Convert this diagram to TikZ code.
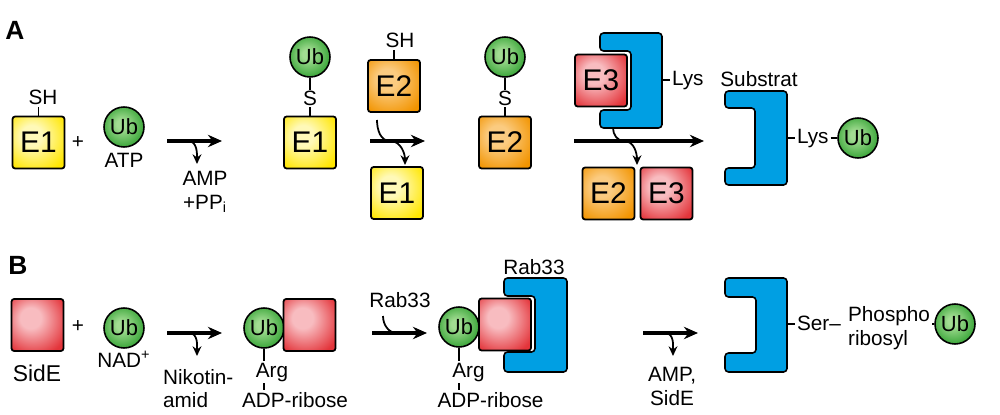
\documentclass[tikz,border=0pt]{standalone}
\usepackage{fontspec}
\setmainfont{Liberation Sans}
\usetikzlibrary{arrows.meta}

\definecolor{eoneyel}{HTML}{FFE600}
\definecolor{eoneyellt}{HTML}{FFF9B8}
\definecolor{etwoorg}{HTML}{F29400}
\definecolor{etwoorglt}{HTML}{FBCB80}
\definecolor{ethreered}{HTML}{E3343A}
\definecolor{ethreeredlt}{HTML}{F8BCC0}
\definecolor{ubgreen}{HTML}{3BA63A}
\definecolor{ubgreenlt}{HTML}{A2DC92}
\definecolor{protblue}{HTML}{009FE3}

\pgfdeclareradialshading{yelshade}{\pgfpoint{-8bp}{8bp}}%
  {color(0bp)=(eoneyellt); color(10bp)=(eoneyellt); color(34bp)=(eoneyel); color(60bp)=(eoneyel)}
\pgfdeclareradialshading{orgshade}{\pgfpoint{-8bp}{8bp}}%
  {color(0bp)=(etwoorglt); color(10bp)=(etwoorglt); color(34bp)=(etwoorg); color(60bp)=(etwoorg)}
\pgfdeclareradialshading{redshade}{\pgfpoint{-8bp}{8bp}}%
  {color(0bp)=(ethreeredlt); color(10bp)=(ethreeredlt); color(34bp)=(ethreered); color(60bp)=(ethreered)}
\pgfdeclareradialshading{grnshade}{\pgfpoint{-4bp}{4bp}}%
  {color(0bp)=(ubgreenlt); color(6bp)=(ubgreenlt); color(27bp)=(ubgreen); color(50bp)=(ubgreen)}

\newcommand\lblfont{\fontsize{11.8}{13.5}\selectfont}
\newcommand\ubfont{\fontsize{12.5}{14}\selectfont}
\newcommand\enzfont{\fontsize{17}{19}\selectfont}

\begin{document}
\begin{tikzpicture}[
    x=0.02cm, y=-0.02cm,
    enz/.style     = {rectangle, draw=black, line width=1pt, rounded corners=1.5pt,
                      minimum size=1.04cm, inner sep=0pt, font=\enzfont},
    eone/.style    = {enz, shading=yelshade},
    etwo/.style    = {enz, shading=orgshade},
    ethree/.style  = {enz, shading=redshade},
    ub/.style      = {circle, draw=black, line width=0.9pt, shading=grnshade,
                      minimum size=0.8cm, inner sep=0pt, font=\ubfont},
    lbl/.style     = {font=\lblfont, inner sep=1pt},
    sidlbl/.style  = {font=\fontsize{13}{15}\selectfont, inner sep=1pt},
    panel/.style   = {font=\fontsize{15}{17}\selectfont\bfseries, inner sep=0pt},
    link/.style    = {line width=0.8pt},
    rxn/.style     = {line width=2pt, -{Stealth[length=8pt, width=7pt]}},
    curl/.style    = {line width=1pt, -{Stealth[length=5.5pt, width=5pt]}},
    curlin/.style  = {line width=1pt},
    prot/.style    = {draw=black, line width=0.9pt, fill=protblue, rounded corners=2pt},
]
\useasboundingbox (0,0) rectangle (1000,415);

%% ============================================================
%% PANEL A
%% ============================================================
\node[panel] (pA) at (15,30) {A};

%% E1 + Ub
\node[eone] (E1a) at (38.5,142.5) {E1};
\node[lbl]  (SHa) at (43,97.5) {SH};
\draw[link] (E1a.north) -- (E1a.north |- SHa.south);
\node[lbl]  (plusA) at (78,143) {+};
\node[ub]   (UbA) at (124,127) {Ub};
\node[lbl]  (ATP) at (124,160) {ATP};

%% step 1
\coordinate (r1s) at (167,141);
\coordinate (r1e) at (222,141);
\coordinate (r1o) at (188,141);
\coordinate (r1t) at (197,164);
\draw[rxn]  (r1s) -- (r1e);
\draw[curl] (r1o) to[out=0, in=90] (r1t);
\node[lbl, align=center, anchor=north] (AMPa) at (205,169) {AMP\\+PP\textsubscript{i}};

%% Ub~S-E1
\node[eone] (E1b) at (310,142.5) {E1};
\node[lbl, inner sep=0.5pt] (Sa) at (310,98.5) {S};
\node[ub]   (UbB) at (310,57) {Ub};
\draw[link] (UbB) -- (Sa);
\draw[link] (Sa) -- (E1b);

%% step 2 (E2 in, E1 out)
\node[etwo] (E2a) at (394,86) {E2};
\node[lbl]  (SHb) at (400,40.5) {SH};
\draw[link] (E2a.north) -- (E2a.north |- SHb.south);
\coordinate (r2s) at (370,141);
\coordinate (r2e) at (425,141);
\coordinate (r2in) at (377,120);
\coordinate (r2m) at (390,141);
\coordinate (r2t) at (405,165);
\draw[rxn]  (r2s) -- (r2e);
\draw[curl] (r2in) to[out=-90, in=180] (r2m) to[out=0, in=90] (r2t);
\node[eone] (E1c) at (397,193) {E1};

%% Ub~S-E2
\node[etwo] (E2b) at (505,142.5) {E2};
\node[lbl, inner sep=0.5pt] (Sb) at (505,98.5) {S};
\node[ub]   (UbC) at (505,57) {Ub};
\draw[link] (UbC) -- (Sb);
\draw[link] (Sb) -- (E2b);

%% E3 bound to substrate
\draw[prot] (600,33) -- (662,33) -- (662,128) -- (600,128) -- (600,110)
            -- (631,110) -- (631,51) -- (600,51) -- cycle;
\node[ethree] (E3a) at (601,80.5) {E3};
\coordinate (E3pR) at (662,80);
\coordinate (E3pB) at (613,128);
\node[lbl, anchor=base west] (LysA) at (670,85.5) {Lys};
\draw[link] (E3pR) -- (E3pR -| LysA.west);

%% step 3
\coordinate (r3s) at (574,141);
\coordinate (r3e) at (704,141);
\coordinate (r3m) at (624,141);
\coordinate (r3t) at (637,165);
\draw[rxn]  (r3s) -- (r3e);
\draw[curl] (E3pB) to[out=-90, in=180] (r3m) to[out=0, in=90] (r3t);
\node[etwo]   (E2c) at (608.5,193.5) {E2};
\node[ethree] (E3c) at (666.5,193.5) {E3};

%% ubiquitinated substrate
\draw[prot] (725,91) -- (787,91) -- (787,185) -- (725,185) -- (725,168)
            -- (755,168) -- (755,108) -- (725,108) -- cycle;
\node[lbl] (Subst) at (759,79) {Substrat};
\coordinate (SubA) at (787,138);
\node[lbl, anchor=base west] (LysB) at (795,143.5) {Lys};
\node[ub]  (UbD) at (858,138) {Ub};
\draw[link] (SubA) -- (SubA -| LysB.west);
\draw[link] (LysB.east |- UbD) -- (UbD.west);

%% ============================================================
%% PANEL B
%% ============================================================
\node[panel] (pB) at (18,265) {B};

%% SidE + Ub
\node[ethree] (SidEa) at (37.5,325) {};
\node[sidlbl] (SidElbl) at (37,373) {SidE};
\node[lbl]    (plusB) at (78,327) {+};
\node[ub]     (UbE) at (124,328) {Ub};
\node[lbl]    (NAD) at (124,359.5) {NAD\textsuperscript{+}};

%% step 1
\coordinate (s1s) at (167,333);
\coordinate (s1e) at (222,333);
\coordinate (s1o) at (189,333);
\coordinate (s1t) at (197,356);
\draw[rxn]  (s1s) -- (s1e);
\draw[curl] (s1o) to[out=0, in=90] (s1t);
\node[lbl, align=left, anchor=north west] (Nik) at (161,367) {Nikotin-\\amid};

%% ADP-ribosylated Ub on SidE
\node[ub]     (UbF) at (264,328) {Ub};
\node[ethree] (SidEb) at (309.5,325) {};
\node[lbl, anchor=base] (ArgA) at (272,377) {Arg};
\node[lbl, anchor=base] (ADPa) at (295,407) {ADP-ribose};
\draw[link] (UbF.south) -- (UbF.south |- ArgA.north);
\draw[link] (UbF.south |- ArgA.south) -- (UbF.south |- ADPa.north);

%% step 2 (Rab33 in)
\node[lbl] (Rab33a) at (400,300.5) {Rab33};
\coordinate (s2s) at (372,333);
\coordinate (s2e) at (427,333);
\coordinate (s2in) at (383,316);
\coordinate (s2m) at (397,333);
\draw[rxn]    (s2s) -- (s2e);
\draw[curlin] (s2in) to[out=-90, in=180] (s2m);

%% complex with Rab33
\draw[prot] (504,278) -- (567,278) -- (567,372) -- (504,372) -- (504,352)
            -- (535,352) -- (535,296) -- (504,296) -- cycle;
\node[lbl]    (Rab33b) at (534,267.5) {Rab33};
\node[ethree] (SidEc) at (505,324.5) {};
\node[ub]     (UbG) at (459,327) {Ub};
\node[lbl, anchor=base] (ArgB) at (468.5,377) {Arg};
\node[lbl, anchor=base] (ADPb) at (490.5,407) {ADP-ribose};
\draw[link] (UbG.south) -- (UbG.south |- ArgB.north);
\draw[link] (UbG.south |- ArgB.south) -- (UbG.south |- ADPb.north);

%% step 3
\coordinate (s3s) at (643,333);
\coordinate (s3e) at (698,333);
\coordinate (s3o) at (665,333);
\coordinate (s3t) at (673,356);
\draw[rxn]  (s3s) -- (s3e);
\draw[curl] (s3o) to[out=0, in=90] (s3t);
\node[lbl, align=center, anchor=north] (AMPb) at (672,365) {AMP,\\SidE};

%% phosphoribosyl-ubiquitinated substrate
\draw[prot] (725,278) -- (787,278) -- (787,372) -- (725,372) -- (725,353)
            -- (756,353) -- (756,297) -- (725,297) -- cycle;
\coordinate (SubB) at (787,324);
\node[lbl, anchor=base west] (Ser) at (795,330) {Ser–};
\draw[link] (SubB) -- (SubB -| Ser.west);
\node[lbl, align=left, anchor=north west] (PhR) at (846,304.5) {Phospho\\ribosyl};
\node[ub]  (UbH) at (955,324) {Ub};
\draw[link] (PhR.east |- UbH) -- (UbH.west);

\end{tikzpicture}
\end{document}
